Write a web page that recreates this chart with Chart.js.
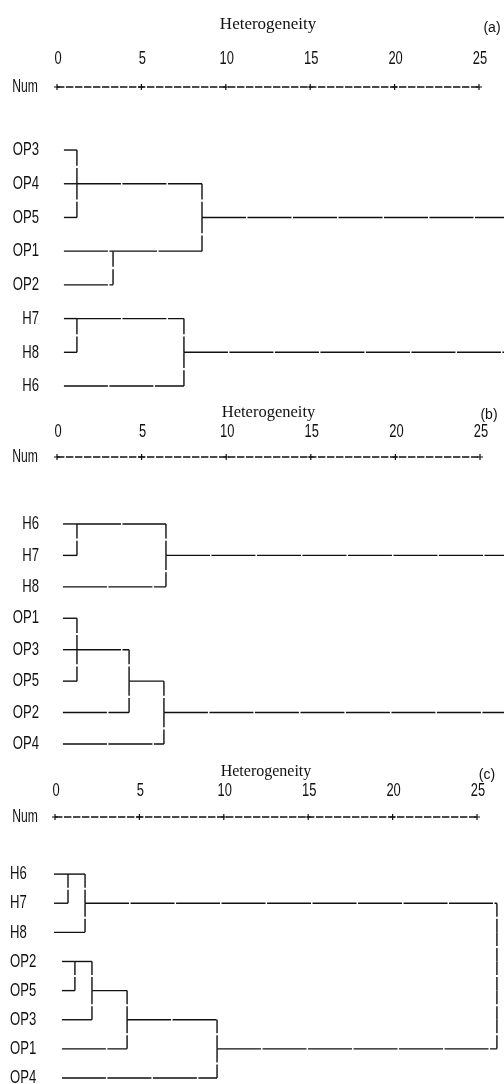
<!DOCTYPE html>
<html>
<head>
<meta charset="utf-8">
<script src="https://cdn.jsdelivr.net/npm/chart.js@4.4.1/dist/chart.umd.min.js"></script>
<style>
  body { margin: 0; background: #fff; }
  .panel { position: absolute; left: 0; width: 504px; }
</style>
</head>
<body>
<div class="panel" style="top:0"><canvas id="chartA" width="504" height="398"></canvas></div>
<div class="panel" style="top:398px"><canvas id="chartB" width="504" height="362"></canvas></div>
<div class="panel" style="top:760px"><canvas id="chartC" width="504" height="324"></canvas></div>
<script>
// Rescaled distance ruler
const rulerTicks = [0, 5, 10, 15, 20, 25];
const rulerLabels = ["0", "5", "10", "15", "20", "25"];

// (a) leaves top to bottom, merge groups and their heights
const leavesA = ["OP3", "OP4", "OP5", "OP1", "OP2", "H7", "H8", "H6"];
const groupsA = [["OP3", "OP4", "OP5"], ["OP1", "OP2"], ["H7", "H8"], ["H7", "H6"], ["OP4", "OP1"], ["OP4", "H7"]];
const heightsA = [1.18, 3.32, 1.18, 7.52, 8.59, 27.5];

// (b)
const leavesB = ["H6", "H7", "H8", "OP1", "OP3", "OP5", "OP2", "OP4"];
const groupsB = [["H6", "H7"], ["OP1", "OP3", "OP5"], ["OP1", "OP2"], ["OP1", "OP4"], ["H6", "H8"], ["H6", "OP1"]];
const heightsB = [1.18, 1.18, 4.26, 6.32, 6.44, 27.5];

// (c)
const leavesC = ["H6", "H7", "H8", "OP2", "OP5", "OP3", "OP1", "OP4"];
const groupsC = [["H6", "H7"], ["OP2", "OP5"], ["H6", "H8"], ["OP2", "OP3"], ["OP2", "OP1"], ["OP2", "OP4"], ["H6", "OP2"]];
const heightsC = [0.77, 1.18, 1.78, 2.19, 4.27, 9.6, 26.18];

const INK = "#111";

// turn the merge list into bracket segments (horizontal arms + vertical joins)
function buildSegments(leaves, groups, heights, leafStart) {
  let nodes = leaves.map((name, i) => ({ members: [name], row: i, x: leafStart[i] }));
  const order = heights.map((h, i) => i).sort((a, b) => heights[a] - heights[b]);
  const segs = [];
  const gap = 0.035;

  order.forEach((k) => {
    const h = heights[k];
    const kids = [];
    groups[k].forEach((name) => {
      const nd = nodes.find((n) => n.members.includes(name));
      if (!kids.includes(nd)) kids.push(nd);
    });
    kids.sort((a, b) => a.row - b.row);

    kids.forEach((c) => {
      segs.push({ dash: true, pts: [{ x: c.x, y: c.row }, { x: h, y: c.row }] });
    });

    const top = kids[0].row;
    const bottom = kids[kids.length - 1].row;
    // verticals break slightly halfway between rows
    for (let r = top; r < bottom; r++) {
      segs.push({ dash: false, pts: [{ x: h, y: r }, { x: h, y: r + 0.5 - gap }] });
      segs.push({ dash: false, pts: [{ x: h, y: r + 0.5 + gap }, { x: h, y: r + 1 }] });
    }

    nodes = nodes.filter((n) => !kids.includes(n));
    nodes.push({
      members: kids.flatMap((c) => c.members),
      row: Math.floor((top + bottom) / 2),
      x: h,
    });
  });
  return segs;
}

function narrowText(ctx, text, x, y, align, squeeze) {
  ctx.save();
  ctx.translate(x, y);
  ctx.scale(squeeze, 1);
  ctx.textAlign = align;
  ctx.fillText(text, 0, 0);
  ctx.restore();
}

function makeDendrogram(cfg) {
  const segs = buildSegments(cfg.leaves, cfg.groups, cfg.heights, cfg.leafStart);

  const datasets = segs.map((s) => ({
    data: s.pts,
    showLine: true,
    borderColor: INK,
    borderWidth: 1.4,
    borderDash: s.dash ? [44, 1.5] : [],
    pointRadius: 0,
    clip: false,
  }));

  // "Num  +----+----+" ruler
  datasets.push({
    data: rulerTicks.map((v) => ({ x: v, y: cfg.numRow })),
    showLine: true,
    borderColor: INK,
    borderWidth: 1.3,
    borderDash: [7.4, 1.6],
    pointStyle: "cross",
    pointRadius: 3,
    pointBorderWidth: 1.2,
    pointBorderColor: INK,
    clip: false,
  });

  const textPlugin = {
    id: "dendroText",
    afterDraw(chart) {
      const { ctx } = chart;
      const x = chart.scales.x;
      const y = chart.scales.y;
      const numY = y.getPixelForValue(cfg.numRow);
      ctx.save();
      ctx.fillStyle = INK;
      ctx.textBaseline = "middle";

      ctx.font = cfg.titleSize + "px 'Liberation Serif', 'Times New Roman', serif";
      ctx.textAlign = "center";
      ctx.fillText("Heterogeneity", x.getPixelForValue(12.5), cfg.titleY);

      ctx.font = "14px 'Liberation Sans', Arial, sans-serif";
      ctx.fillText(cfg.letter, cfg.letterX, cfg.letterY);

      ctx.font = "19px 'Liberation Sans', Arial, sans-serif";
      rulerTicks.forEach((v, i) => {
        narrowText(ctx, rulerLabels[i], x.getPixelForValue(v) + 1, numY - cfg.tickGap, "center", 0.68);
      });
      narrowText(ctx, "Num", 38, numY, "right", 0.64);

      cfg.leaves.forEach((name, i) => {
        narrowText(ctx, name, cfg.leafX, y.getPixelForValue(i), cfg.leafAlign, 0.69);
      });
      ctx.restore();
    },
  };

  return new Chart(document.getElementById(cfg.canvas), {
    type: "scatter",
    data: { datasets },
    options: {
      responsive: false,
      animation: false,
      layout: {
        padding: { left: cfg.padLeft, right: cfg.padRight, top: cfg.padTop, bottom: cfg.padBottom },
      },
      scales: {
        x: { type: "linear", min: 0, max: 25, display: false },
        y: { type: "linear", min: cfg.numRow, max: cfg.leaves.length - 1, reverse: true, display: false },
      },
      plugins: {
        legend: { display: false },
        tooltip: { enabled: false },
      },
    },
    plugins: [textPlugin],
  });
}

makeDendrogram({
  canvas: "chartA",
  leaves: leavesA, groups: groupsA, heights: heightsA,
  leafStart: [0.41, 0.41, 0.41, 0.41, 0.41, 0.41, 0.41, 0.41],
  numRow: -1.87,
  padLeft: 57, padRight: 25, padTop: 87, padBottom: 12,
  titleY: 25, titleSize: 17, letter: "(a)", letterX: 492, letterY: 28,
  tickGap: 28, leafX: 39, leafAlign: "right",
});

makeDendrogram({
  canvas: "chartB",
  leaves: leavesB, groups: groupsB, heights: heightsB,
  leafStart: [0.35, 0.35, 0.35, 0.35, 0.35, 0.35, 0.35, 0.35],
  numRow: -2.13,
  padLeft: 57, padRight: 24, padTop: 59, padBottom: 16,
  titleY: 15, titleSize: 16.5, letter: "(b)", letterX: 489, letterY: 17,
  tickGap: 25, leafX: 39, leafAlign: "right",
});

makeDendrogram({
  canvas: "chartC",
  leaves: leavesC, groups: groupsC, heights: heightsC,
  leafStart: [-0.06, -0.06, -0.06, 0.41, 0.41, 0.41, 0.41, 0.41],
  numRow: -1.96,
  padLeft: 55, padRight: 27, padTop: 57, padBottom: 6,
  titleY: 12, titleSize: 16, letter: "(c)", letterX: 487, letterY: 15,
  tickGap: 26, leafX: 10, leafAlign: "left",
});
</script>
</body>
</html>
